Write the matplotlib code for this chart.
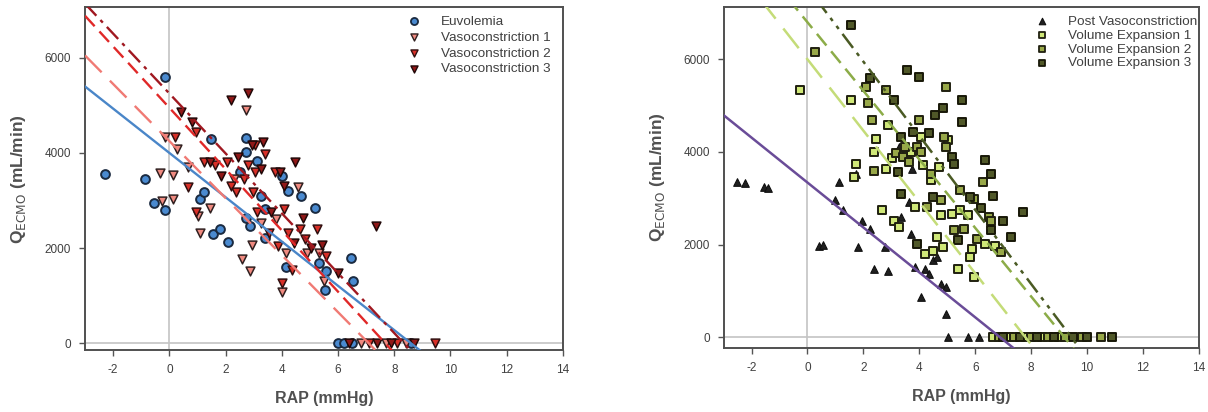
import matplotlib.pyplot as plt
import numpy as np

plt.rcParams['font.family'] = ['Liberation Sans', 'DejaVu Sans']
plt.rcParams['axes.unicode_minus'] = False

# ---- left panel data ----
euvo_x = [-2.3, -0.88, -0.54, -0.14, -0.16, 1.09, 1.22, 1.47, 1.56, 1.81, 2.07, 2.52, 2.72, 2.72,
          2.72, 3.13, 3.27, 3.40, 3.40, 2.86, 4.01, 4.22, 4.15, 4.69, 5.17, 5.31, 5.58, 5.55, 6.46,
          6.53, 6.0, 6.2, 6.5, 8.6]
euvo_y = [3550, 3450, 2940, 2800, 5600, 3040, 3170, 4300, 2300, 2390, 2120, 3600, 4320, 4020,
          2640, 3840, 3100, 2820, 2215, 2460, 3520, 3200, 1610, 3100, 2850, 1680, 1510, 1120, 1790,
          1300, 0, 0, 0, 0]

vc1_x = [-0.34, -0.27, 0.14, 0.14, -0.14, 0.27, 0.68, 1.02, 1.09, 1.43, 2.31, 2.59, 2.72, 2.86,
         2.93, 3.27, 3.81, 4.01, 4.15, 4.56, 4.90, 5.31, 5.51, 6.8, 7.7, 8.4]
vc1_y = [3580, 2990, 3030, 3545, 4340, 4090, 3700, 2680, 2320, 2850, 3450, 1760, 4900, 1510,
         2070, 2530, 2600, 1080, 1900, 3280, 1900, 1900, 1300, 0, 0, 0]

vc2_x = [0.20, 0.95, 0.68, 0.95, 1.22, 1.63, 2.04, 2.18, 2.38, 2.65, 2.79, 3.06, 3.40, 3.06,
         2.99, 3.13, 3.54, 3.74, 3.88, 4.01, 4.08, 4.22, 4.35, 4.63, 4.83, 5.24, 5.58, 9.46, 7.1, 8.1]
vc2_y = [4340, 4440, 3280, 2750, 3810, 3740, 3810, 3310, 3170, 3450, 3740, 4160, 3980, 3600,
         3170, 2750, 2320, 3600, 2040, 1260, 2820, 2320, 1540, 2390, 2180, 2390, 1830, 0, 0, 0]

vc3_x = [0.41, 0.82, 1.43, 1.84, 2.18, 2.45, 2.79, 2.93, 3.33, 3.27, 3.61, 3.95, 4.08, 4.42,
         4.46, 4.76, 5.03, 5.44, 5.99, 7.35, 6.4, 7.4, 7.9, 8.7]
vc3_y = [4870, 4660, 3810, 3520, 5120, 3910, 5260, 4160, 4230, 3670, 2750, 3600, 3310, 2110,
         3810, 2640, 2000, 2070, 1470, 2460, 0, 0, 0, 0]

# regression lines: intercept, slope
left_fits = {
    'Euvolemia': (4000, -466),
    'Vasoconstriction 1': (4250, -600),
    'Vasoconstriction 2': (4950, -645),
    'Vasoconstriction 3': (5250, -630),
}

# ---- right panel data ----
post_x = [-2.52, -2.24, -1.54, -1.40, 0.42, 0.56, 0.98, 1.12, 1.26, 1.75, 1.82, 1.96, 2.24, 2.38,
          2.77, 2.87, 3.36, 3.64, 3.71, 3.75, 3.85, 4.06, 4.20, 4.34, 4.48, 4.62, 4.76, 4.97, 4.97,
          3.26, 5.03, 5.73, 6.15]
post_y = [3350, 3340, 3240, 3230, 1980, 2000, 2960, 3350, 2740, 3530, 1950, 2520, 2340, 1480,
          1950, 1440, 2600, 2920, 2240, 3640, 1510, 870, 1480, 1370, 1660, 1730, 1150, 500, 1080,
          4110, 0, 0, 0]

ve1_x = [-0.28, 1.54, 1.75, 1.68, 2.45, 2.38, 2.66, 2.87, 2.80, 3.01, 3.08, 3.29, 3.57, 3.71,
         3.85, 4.06, 4.13, 4.20, 4.41, 4.48, 4.62, 4.69, 4.76, 4.83, 5.03, 5.17, 5.38, 5.45, 5.73,
         5.80, 5.87, 5.94, 6.36, 6.71, 6.64, 7.2, 7.8, 8.4, 9.0]
ve1_y = [5340, 5120, 3750, 3460, 4290, 4000, 2740, 4580, 3640, 3860, 2520, 2380, 3930, 4000,
         2810, 4330, 3710, 1800, 3390, 1870, 2160, 3680, 2630, 1950, 4250, 2670, 1480, 2740, 2630,
         1730, 1910, 1300, 2020, 1980, 0, 0, 0, 0, 0]

ve2_x = [0.28, 2.10, 2.17, 2.31, 2.38, 2.80, 3.15, 3.43, 3.50, 3.64, 3.92, 3.99, 4.06, 4.27,
         4.41, 4.76, 4.90, 4.97, 4.97, 5.24, 5.45, 5.59, 5.94, 6.08, 6.29, 6.50, 6.57, 6.92,
         6.85, 7.4, 8.0, 8.6, 9.2, 9.8, 10.5]
ve2_y = [6160, 5410, 5050, 4690, 3600, 5340, 3970, 3890, 4110, 3790, 4110, 4690, 4000, 2810,
         3530, 2960, 4330, 5410, 4110, 2310, 3170, 2340, 2990, 2130, 3350, 2600, 2520, 1840,
         0, 0, 0, 0, 0, 0, 0]

ve3_x = [1.54, 2.24, 3.08, 3.22, 3.36, 3.36, 3.57, 3.78, 3.99, 3.92, 4.34, 4.48, 4.55, 4.83,
         5.17, 5.24, 5.38, 5.52, 5.52, 5.80, 6.22, 6.36, 6.57, 6.57, 6.64, 6.99, 7.27, 7.69,
         7.0, 7.6, 8.2, 8.8, 9.5, 10.0, 10.9]
ve3_y = [6740, 5590, 5120, 3570, 4330, 3100, 5770, 4430, 5620, 2020, 4400, 3030, 4790, 4940,
         3890, 3750, 2090, 5120, 4650, 3030, 2780, 3820, 3530, 2310, 3060, 2520, 2160, 2700,
         0, 0, 0, 0, 0, 0, 0]

right_fits = {
    'Post Vasoconstriction': (3340, -485),
    'Volume Expansion 1': (6000, -770),
    'Volume Expansion 2': (6800, -740),
    'Volume Expansion 3': (7550, -800),
}

txt = '#404040'
fig = plt.figure(figsize=(12.08, 4.12), dpi=100)
axL = fig.add_axes([0.0704, 0.150, 0.3956, 0.833])
axR = fig.add_axes([0.599, 0.155, 0.3935, 0.828])

xx = np.array([-3.0, 14.0])


def style(ax, ylo, yhi):
    ax.set_xlim(-3, 14)
    ax.set_ylim(ylo, yhi)
    ax.set_xticks(range(-2, 15, 2))
    ax.set_yticks([0, 2000, 4000, 6000])
    ax.axhline(0, color='#c4c4c4', lw=1.2, zorder=0)
    ax.axvline(0, color='#c4c4c4', lw=1.2, zorder=0)
    for s in ax.spines.values():
        s.set_color('#505050')
        s.set_linewidth(1.4)
    ax.tick_params(direction='out', length=4, width=1, colors='#555555', pad=6,
                   labelcolor=txt, labelsize=8.5, top=False, right=False)
    ax.set_xlabel('RAP (mmHg)', fontsize=11.5, fontweight='bold', color='#505050', labelpad=11)
    ax.set_ylabel(r'Q$_{\mathrm{ECMO}}$ (mL/min)', fontsize=12.5, fontweight='bold',
                  color='#505050', labelpad=12)


style(axL, -150, 7070)
style(axR, -235, 7130)

# left panel
ms = 40
axL.scatter(euvo_x, euvo_y, s=ms, marker='o', facecolor='#4a8ad0', edgecolor='#1a2a40', lw=1.4, zorder=3)
axL.scatter(vc1_x, vc1_y, s=ms, marker='v', facecolor='#f08a80', edgecolor='#302020', lw=1.1, zorder=3)
axL.scatter(vc2_x, vc2_y, s=ms, marker='v', facecolor='#d83028', edgecolor='#301010', lw=1.1, zorder=3)
axL.scatter(vc3_x, vc3_y, s=ms, marker='v', facecolor='#901818', edgecolor='#200808', lw=1.1, zorder=3)

b0, b1 = left_fits['Euvolemia']
axL.plot(xx, b0 + b1 * xx, color='#4a86c8', lw=1.7, zorder=4)
b0, b1 = left_fits['Vasoconstriction 1']
axL.plot(xx, b0 + b1 * xx, color='#f07a74', lw=1.7, dashes=(10, 5), zorder=4)
b0, b1 = left_fits['Vasoconstriction 2']
axL.plot(xx, b0 + b1 * xx, color='#e02828', lw=1.7, dashes=(6, 3), zorder=4)
b0, b1 = left_fits['Vasoconstriction 3']
axL.plot(xx, b0 + b1 * xx, color='#a01820', lw=1.7, dashes=(7, 2.5, 1.5, 2.5), zorder=4)

hL = [
    axL.scatter([], [], s=26, marker='o', facecolor='#4a8ad0', edgecolor='#1a2a40', lw=1.3),
    axL.scatter([], [], s=26, marker='v', facecolor='#f08a80', edgecolor='#302020', lw=1.0),
    axL.scatter([], [], s=26, marker='v', facecolor='#d83028', edgecolor='#301010', lw=1.0),
    axL.scatter([], [], s=26, marker='v', facecolor='#901818', edgecolor='#200808', lw=1.0),
]
axL.legend(hL, list(left_fits.keys()), loc='upper right', frameon=False, fontsize=9.7,
           handletextpad=1.0, labelspacing=0.25, borderpad=0, borderaxespad=0, labelcolor=txt,
           bbox_to_anchor=(0.975, 0.975))

# right panel
axR.scatter(post_x, post_y, s=30, marker='^', facecolor='#202020', edgecolor='#101010', lw=0.8, zorder=3)
axR.scatter(ve1_x, ve1_y, s=30, marker='s', facecolor='#d0e878', edgecolor='#202010', lw=1.4, zorder=3)
axR.scatter(ve2_x, ve2_y, s=30, marker='s', facecolor='#98a848', edgecolor='#202010', lw=1.4, zorder=3)
axR.scatter(ve3_x, ve3_y, s=30, marker='s', facecolor='#505828', edgecolor='#181808', lw=1.4, zorder=3)

b0, b1 = right_fits['Post Vasoconstriction']
axR.plot(xx, b0 + b1 * xx, color='#6a4c98', lw=1.8, zorder=4)
b0, b1 = right_fits['Volume Expansion 1']
axR.plot(xx, b0 + b1 * xx, color='#c4dc78', lw=1.8, dashes=(10, 5), zorder=4)
b0, b1 = right_fits['Volume Expansion 2']
axR.plot(xx, b0 + b1 * xx, color='#8cac48', lw=1.8, dashes=(6, 3), zorder=4)
b0, b1 = right_fits['Volume Expansion 3']
axR.plot(xx, b0 + b1 * xx, color='#4a5a24', lw=1.8, dashes=(7, 2.5, 1.5, 2.5, 1.5, 2.5), zorder=4)

hR = [
    axR.scatter([], [], s=22, marker='^', facecolor='#202020', edgecolor='#101010', lw=0.8),
    axR.scatter([], [], s=22, marker='s', facecolor='#d0e878', edgecolor='#202010', lw=1.3),
    axR.scatter([], [], s=22, marker='s', facecolor='#98a848', edgecolor='#202010', lw=1.3),
    axR.scatter([], [], s=22, marker='s', facecolor='#505828', edgecolor='#181808', lw=1.3),
]
axR.legend(hR, list(right_fits.keys()), loc='upper right', frameon=False, fontsize=9.7,
           handletextpad=0.9, labelspacing=0.1, borderpad=0, borderaxespad=0, labelcolor=txt,
           bbox_to_anchor=(0.996, 0.975))

fig.savefig('out.png', dpi=100)
